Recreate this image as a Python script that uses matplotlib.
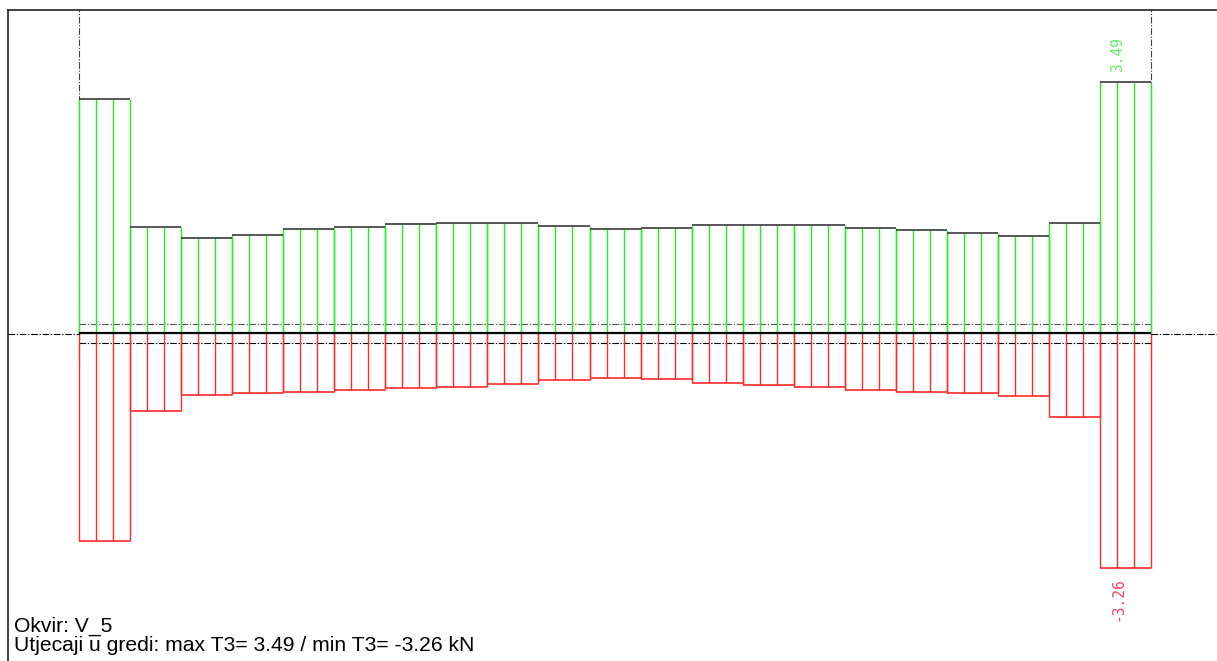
import numpy as np
import matplotlib.pyplot as plt

# ---------------------------------
# Data: shear force T3 per beam segment (kN)
# ---------------------------------

segments = np.arange(21)
t3_max = [3.25, 1.48, 1.32, 1.37, 1.44, 1.48, 1.51, 1.53, 1.53, 1.49, 1.45,
          1.46, 1.50, 1.50, 1.50, 1.46, 1.43, 1.39, 1.35, 1.53, 3.49]
t3_min = [-2.88, -1.08, -0.86, -0.83, -0.81, -0.78, -0.76, -0.74, -0.70, -0.65, -0.62,
          -0.64, -0.69, -0.72, -0.74, -0.78, -0.81, -0.83, -0.87, -1.16, -3.26]
frame_name = "V_5"
subdiv = 3

GREEN = "#22f022"
RED = "#ff2a2a"
LABEL_GREEN = "#66ee66"
LABEL_RED = "#ff4466"
DASHDOT = (0, (6, 1.5, 1.2, 1.5))

# ---------------------------------
# Figure / axes
# ---------------------------------

W, H = 1217, 661
fig = plt.figure(figsize=(W / 100, H / 100), dpi=100)
ax = fig.add_axes([8 / W, 0, 1 - 8 / W, 1 - 10 / H])

n = len(segments)
beam_end = n
ax.set_xlim((8 - 79) / 51.05, (W - 79) / 51.05)
ax.set_ylim(-(H - 333.3) / 72.1, (333.3 - 10) / 72.1)

for side in ["right", "bottom"]:
    ax.spines[side].set_visible(False)
for side in ["left", "top"]:
    ax.spines[side].set_linewidth(1.2)
    ax.spines[side].set_color("#222222")
ax.set_xticks([])
ax.set_yticks([])

# ---------------------------------
# Diagram
# ---------------------------------

for i, gmax, gmin in zip(segments, t3_max, t3_min):
    xs = i + np.linspace(0, 1, subdiv + 1)
    ax.vlines(xs, 0, gmax, color=GREEN, lw=1.0, zorder=2)
    ax.vlines(xs, 0, gmin, color=RED, lw=1.0, zorder=2)
    ax.hlines(gmax, i, i + 1, color="#3a3a3a", lw=1.2, zorder=3)
    ax.hlines(gmin, i, i + 1, color=RED, lw=1.2, zorder=3)

# beam axis and offset lines
ax.hlines(0, 0, beam_end, color="black", lw=1.6, zorder=4)
ax.hlines(0.129, 0, beam_end, color="#555555", lw=0.8, linestyles=[DASHDOT], zorder=1)
ax.hlines(-0.139, 0, beam_end, color="black", lw=0.8, linestyles=[DASHDOT], zorder=1)
ax.hlines(-0.01, ax.get_xlim()[0], 0, color="black", lw=0.8, linestyles=[DASHDOT])
ax.hlines(-0.01, beam_end, ax.get_xlim()[1], color="black", lw=0.8, linestyles=[DASHDOT])
ax.vlines([0, beam_end], -0.41, ax.get_ylim()[1], color="#444444", lw=0.8,
          linestyles=[DASHDOT], zorder=1)

# extreme value labels
i_max = int(np.argmax(t3_max))
i_min = int(np.argmin(t3_min))
ax.text(i_max + 0.35, t3_max[i_max] + 0.14, f"{t3_max[i_max]:.2f}",
        rotation=90, ha="center", va="bottom", color=LABEL_GREEN,
        family="DejaVu Sans Mono", fontsize=10.5)
ax.text(i_min + 0.35, t3_min[i_min] - 0.125, f"{t3_min[i_min]:.2f}",
        rotation=90, ha="center", va="top", color=LABEL_RED,
        family="DejaVu Sans Mono", fontsize=10.5)

# ---------------------------------
# Caption
# ---------------------------------

fig.text(14 / W, 1 - 632 / H, f"Okvir: {frame_name}", family="Liberation Sans",
         fontsize=15.2, va="baseline", ha="left")
fig.text(14 / W, 1 - 651 / H,
         f"Utjecaji u gredi: max T3= {max(t3_max):.2f} / min T3= {min(t3_min):.2f} kN",
         family="Liberation Sans", fontsize=15.2, va="baseline", ha="left")

fig.savefig("out.png", dpi=100)
